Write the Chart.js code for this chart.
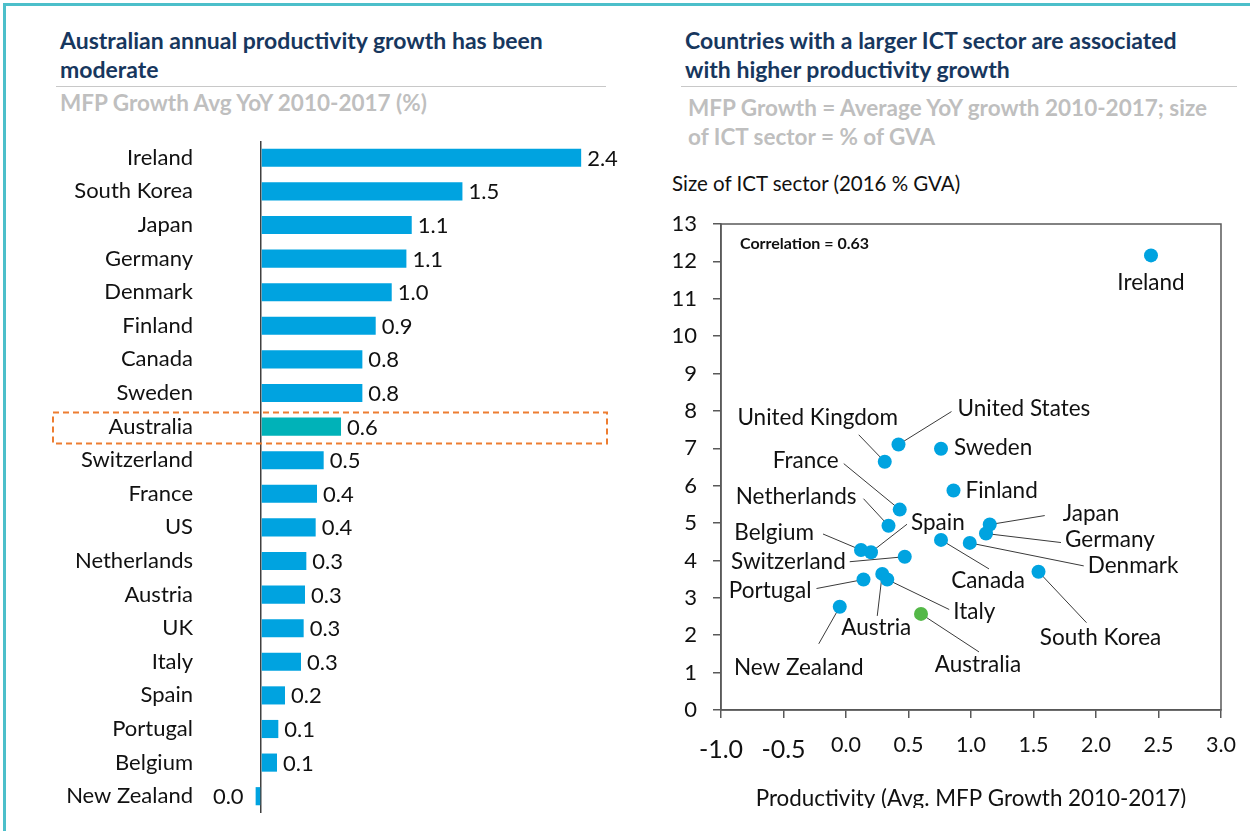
<!DOCTYPE html>
<html>
<head>
<meta charset="utf-8">
<title>MFP growth and ICT sector size</title>
<script src="https://cdn.jsdelivr.net/npm/chart.js@4.4.1/dist/chart.umd.min.js"></script>
<style>
  body { margin: 0; width: 1250px; height: 831px; overflow: hidden; background: #fff; font-family: Lato, sans-serif; position: relative; }
  .frame { position: absolute; left: 3px; top: 3px; right: 0; bottom: 0; border-left: 3px solid #4cbfca; border-top: 3px solid #4cbfca; }
  .title { position: absolute; color: #17375e; font-weight: bold; font-size: 23px; line-height: 29px; white-space: nowrap; }
  .rule { position: absolute; height: 1px; background: #c8c8c8; }
  .sub { position: absolute; color: #bfbfbf; font-weight: bold; font-size: 22.5px; line-height: 29px; white-space: nowrap; }
  .ylab { position: absolute; color: #111; font-size: 20.5px; line-height: 24px; white-space: nowrap; }
  #barBox { position: absolute; left: 0; top: 120px; width: 640px; height: 714px; }
  #scatterBox { position: absolute; left: 640px; top: 190px; width: 597px; height: 618px; overflow: hidden; }
  #scatterInner { position: absolute; left: 0; top: 0; width: 610px; height: 641px; }
</style>
</head>
<body>
<div class="frame"></div>

<div class="title" style="left:60px; top:26px;">Australian annual productivity growth has been<br>moderate</div>
<div class="rule" style="left:56px; top:86px; width:550px;"></div>
<div class="sub" style="left:60px; top:88px;">MFP Growth Avg YoY 2010-2017 (%)</div>

<div class="title" style="left:685px; top:26px;">Countries with a larger ICT sector are associated<br>with higher productivity growth</div>
<div class="rule" style="left:681px; top:86px; width:556px;"></div>
<div class="sub" style="left:688px; top:93px;">MFP Growth = Average YoY growth 2010-2017; size<br>of ICT sector = % of GVA</div>
<div class="ylab" style="left:672px; top:171px;">Size of ICT sector (2016 % GVA)</div>

<div id="barBox"><canvas id="growthBars"></canvas></div>
<div id="scatterBox"><div id="scatterInner"><canvas id="ictScatter"></canvas></div></div>

<script>
// average MFP growth 2010-2017, % per year
var barCountries = ['Ireland', 'South Korea', 'Japan', 'Germany', 'Denmark', 'Finland', 'Canada', 'Sweden',
  'Australia', 'Switzerland', 'France', 'US', 'Netherlands', 'Austria', 'UK', 'Italy', 'Spain', 'Portugal',
  'Belgium', 'New Zealand'];
var barGrowth = [2.40, 1.51, 1.13, 1.09, 0.98, 0.86, 0.76, 0.76, 0.60, 0.47, 0.42, 0.41, 0.34, 0.33, 0.32,
  0.30, 0.18, 0.13, 0.12, -0.04];

// productivity vs size of ICT sector (2016 % of GVA)
var ictCountries = ['Ireland', 'United States', 'United Kingdom', 'Sweden', 'Finland', 'France', 'Netherlands',
  'Belgium', 'Spain', 'Switzerland', 'Japan', 'Germany', 'Canada', 'Denmark', 'South Korea', 'Portugal',
  'Austria', 'Italy', 'New Zealand', 'Australia'];
var ictProductivity = [2.44, 0.42, 0.31, 0.76, 0.86, 0.43, 0.34, 0.12, 0.20, 0.47, 1.15, 1.12, 0.76, 0.99,
  1.54, 0.14, 0.29, 0.33, -0.05, 0.60];
var ictShare = [12.16, 7.10, 6.64, 6.99, 5.87, 5.36, 4.93, 4.28, 4.22, 4.10, 4.96, 4.72, 4.55, 4.47, 3.70,
  3.49, 3.64, 3.49, 2.76, 2.57];
var correlation = 0.63;

var highlight = 'Australia';
var blue = '#00a3e0';
var ink = '#111111';
var FONT = 'Lato, sans-serif';

// where each country name sits relative to its dot (px), plus the leader line start
var callouts = {
  'Ireland':        { dx: 0,    dy: 27,   align: 'center' },
  'United States':  { dx: 59,   dy: -36,  align: 'left',   lx: 53,   ly: -33 },
  'United Kingdom': { dx: -67,  dy: -44,  align: 'center', lx: -26,  ly: -27 },
  'Sweden':         { dx: 13,   dy: -1,   align: 'left' },
  'Finland':        { dx: 12,   dy: 0,    align: 'left' },
  'France':         { dx: -61,  dy: -49,  align: 'right',  lx: -56,  ly: -46 },
  'Netherlands':    { dx: -32,  dy: -29,  align: 'right',  lx: -25,  ly: -27 },
  'Spain':          { dx: 40,   dy: -29,  align: 'left',   lx: 36,   ly: -28 },
  'Japan':          { dx: 73,   dy: -11,  align: 'left',   lx: 55,   ly: -9 },
  'Germany':        { dx: 79,   dy: 6,    align: 'left',   lx: 75,   ly: 9 },
  'Belgium':        { dx: -47,  dy: -17,  align: 'right',  lx: -38,  ly: -16 },
  'Switzerland':    { dx: -59,  dy: 5,    align: 'right',  lx: -55,  ly: 5 },
  'Denmark':        { dx: 118,  dy: 23,   align: 'left',   lx: 114,  ly: 23 },
  'Canada':         { dx: 47,   dy: 41,   align: 'center', lx: 48,   ly: 29 },
  'South Korea':    { dx: 62,   dy: 66,   align: 'center', lx: 48,   ly: 51 },
  'Portugal':       { dx: -52,  dy: 11,   align: 'right',  lx: -47,  ly: 9 },
  'Austria':        { dx: -6,   dy: 54,   align: 'center', lx: -5,   ly: 42 },
  'Italy':          { dx: 66,   dy: 32,   align: 'left',   lx: 62,   ly: 30 },
  'New Zealand':    { dx: -41,  dy: 61,   align: 'center', lx: -21,  ly: 37 },
  'Australia':      { dx: 57,   dy: 51,   align: 'center', lx: 58,   ly: 38 }
};

function fmt1(v) {
  var s = v.toFixed(1);
  return s === '-0.0' ? '0.0' : s;
}

// value labels next to the bars and the dashed box round the highlighted row
var barExtras = {
  id: 'barExtras',
  afterDatasetsDraw: function (chart) {
    var ctx = chart.ctx;
    var meta = chart.getDatasetMeta(0);
    var zero = chart.scales.x.getPixelForValue(0);
    ctx.save();
    ctx.font = '22px ' + FONT;
    ctx.fillStyle = ink;
    ctx.textBaseline = 'middle';
    meta.data.forEach(function (bar, i) {
      var v = barGrowth[i];
      if (v >= 0) {
        ctx.textAlign = 'left';
        ctx.fillText(fmt1(v), bar.x + 6, bar.y + 1);
      } else {
        ctx.textAlign = 'right';
        ctx.fillText(fmt1(v), Math.min(bar.x, zero) - 12, bar.y + 1);
      }
    });
    var k = barCountries.indexOf(highlight);
    var y = meta.data[k].y;
    ctx.strokeStyle = '#ed7d31';
    ctx.lineWidth = 2;
    ctx.setLineDash([6, 4]);
    ctx.strokeRect(53, y - 14, 554, 31);
    ctx.restore();
  }
};

new Chart(document.getElementById('growthBars'), {
  type: 'bar',
  data: {
    labels: barCountries,
    datasets: [{
      data: barGrowth,
      backgroundColor: barCountries.map(function (c) { return c === highlight ? '#00b2b8' : blue; }),
      barPercentage: 0.54,
      categoryPercentage: 1
    }]
  },
  options: {
    indexAxis: 'y',
    responsive: true,
    maintainAspectRatio: false,
    animation: false,
    layout: { padding: { left: 0, right: 12, top: 21, bottom: 21 } },
    plugins: { legend: { display: false }, tooltip: { enabled: false } },
    scales: {
      x: {
        min: -0.457, max: 2.751,
        afterBuildTicks: function (s) { s.ticks = [{ value: 0 }]; },
        afterFit: function (s) { s.height = 0; },
        ticks: { display: false },
        border: { display: false },
        grid: { color: '#404040', lineWidth: 1.5, drawTicks: false }
      },
      y: {
        afterFit: function (s) { s.width = 200; },
        ticks: { color: ink, padding: 7, font: { family: FONT, size: 22 } },
        border: { display: false },
        grid: { display: false, drawTicks: false }
      }
    }
  },
  plugins: [barExtras]
});

// leader lines, country names, plot frame and correlation note
var scatterExtras = {
  id: 'scatterExtras',
  beforeDatasetsDraw: function (chart) {
    var ctx = chart.ctx;
    var meta = chart.getDatasetMeta(0);
    ctx.save();
    ctx.strokeStyle = '#3a3a3a';
    ctx.lineWidth = 1;
    meta.data.forEach(function (pt, i) {
      var c = callouts[ictCountries[i]];
      if (c.lx === undefined) return;
      ctx.beginPath();
      ctx.moveTo(pt.x + c.lx, pt.y + c.ly);
      ctx.lineTo(pt.x, pt.y);
      ctx.stroke();
    });
    var a = chart.chartArea;
    ctx.strokeStyle = '#595959';
    ctx.lineWidth = 1.5;
    ctx.strokeRect(a.left, a.top, a.right - a.left, a.bottom - a.top);
    ctx.restore();
  },
  afterDatasetsDraw: function (chart) {
    var ctx = chart.ctx;
    var meta = chart.getDatasetMeta(0);
    ctx.save();
    ctx.font = '22.5px ' + FONT;
    ctx.fillStyle = ink;
    ctx.textBaseline = 'middle';
    meta.data.forEach(function (pt, i) {
      var c = callouts[ictCountries[i]];
      ctx.textAlign = c.align;
      ctx.fillText(ictCountries[i], pt.x + c.dx, pt.y + c.dy);
    });
    var a = chart.chartArea;
    ctx.font = 'bold 16px ' + FONT;
    ctx.textAlign = 'left';
    ctx.fillText('Correlation = ' + correlation.toFixed(2), a.left + 19, a.top + 20);
    ctx.restore();
  }
};

new Chart(document.getElementById('ictScatter'), {
  type: 'scatter',
  data: {
    datasets: [{
      data: ictCountries.map(function (c, i) { return { x: ictProductivity[i], y: ictShare[i] }; }),
      backgroundColor: ictCountries.map(function (c) { return c === highlight ? '#54b848' : blue; }),
      borderWidth: 0,
      pointRadius: 7
    }]
  },
  options: {
    responsive: true,
    maintainAspectRatio: false,
    animation: false,
    layout: { padding: { left: 0, right: 26, top: 34, bottom: 11 } },
    plugins: { legend: { display: false }, tooltip: { enabled: false } },
    scales: {
      x: {
        min: -1, max: 3,
        afterFit: function (s) { s.height = 110; },
        ticks: {
          stepSize: 0.5,
          color: ink,
          padding: 14,
          callback: function (v) { return Number(v).toFixed(1); },
          font: function (c) {
            return c.tick && c.tick.value < 0
              ? { family: FONT, size: 25, lineHeight: 1.44 }
              : { family: FONT, size: 21.5 };
          }
        },
        border: { color: '#595959', width: 1.5 },
        grid: { drawOnChartArea: false, tickLength: 8, color: '#595959', lineWidth: 1.5 },
        title: {
          display: true,
          text: 'Productivity (Avg. MFP Growth 2010-2017)',
          color: ink,
          padding: { top: 0, bottom: 8 },
          font: { family: FONT, size: 22.4 }
        }
      },
      y: {
        min: 0, max: 13,
        afterFit: function (s) { s.width = 81; },
        ticks: { stepSize: 1, color: ink, padding: 16, font: { family: FONT, size: 22 } },
        border: { color: '#595959', width: 1.5 },
        grid: { drawOnChartArea: false, tickLength: 8, color: '#595959', lineWidth: 1.5 }
      }
    }
  },
  plugins: [scatterExtras]
});
</script>
</body>
</html>
